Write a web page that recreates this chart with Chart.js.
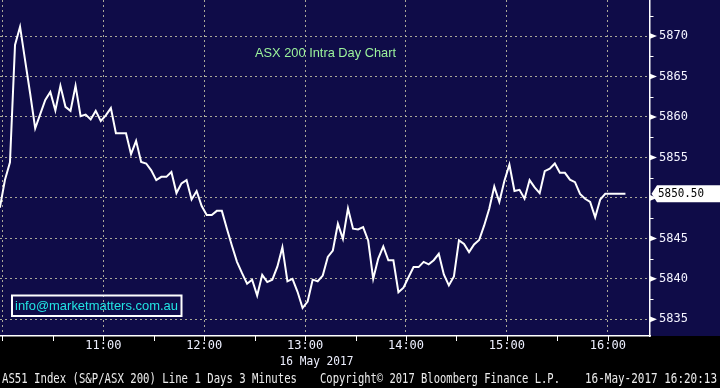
<!DOCTYPE html>
<html>
<head>
<meta charset="utf-8">
<title>ASX 200 Intra Day Chart</title>
<script src="https://cdn.jsdelivr.net/npm/chart.js@4.4.1/dist/chart.umd.min.js"></script>
<style>
    html, body { margin: 0; padding: 0; background: #000; }
    #wrap { width: 720px; height: 388px; }
</style>
</head>
<body>
<div id="wrap"><canvas id="asxChart" width="720" height="388"></canvas></div>
<script>
// AS51 intraday, 3 minute bars, minutes counted from 10:00
const firstBarMinute = -1.5;
const barMinutes = 3;
const prices = [
    5848.8, 5852.2, 5854.4, 5868.9, 5871.15, 5867.0, 5862.9, 5858.6, 5860.35, 5862.1,
    5863.1, 5860.8, 5863.85, 5861.25, 5860.75, 5863.85, 5860.1, 5860.3, 5859.7, 5860.75,
    5859.5, 5860.2, 5861.1, 5858.0, 5858.0, 5858.0, 5855.4, 5857.05, 5854.45, 5854.25,
    5853.4, 5852.2, 5852.6, 5852.6, 5853.2, 5850.6, 5851.8, 5852.2, 5849.8, 5850.85,
    5849.0, 5847.9, 5847.9, 5848.4, 5848.4, 5846.2, 5844.1, 5842.1, 5840.7, 5839.4,
    5839.9, 5837.95, 5840.5, 5839.6, 5839.9, 5841.5, 5843.9, 5839.7, 5840.0, 5838.4,
    5836.4, 5837.2, 5839.9, 5839.7, 5840.4, 5842.7, 5843.5, 5846.8, 5844.95, 5848.7,
    5846.2, 5846.1, 5846.4, 5844.75, 5840.0, 5842.5, 5844.0, 5842.3, 5842.3, 5838.35,
    5838.9, 5840.2, 5841.45, 5841.45, 5842.1, 5841.8, 5842.3, 5843.1, 5840.55, 5839.2,
    5840.3, 5844.75, 5844.3, 5843.3, 5844.25, 5844.8, 5846.6, 5848.65, 5851.4, 5849.5,
    5852.1, 5854.1, 5850.85, 5851.0, 5849.9, 5852.2, 5851.3, 5850.6, 5853.3, 5853.6,
    5854.25, 5853.1, 5853.1, 5852.25, 5851.95, 5850.5, 5849.9, 5849.5, 5847.6, 5849.8,
    5850.5, 5850.5, 5850.5, 5850.5, 5850.5
];

const xGridMinutes = [0, 60, 120, 180, 240, 300, 360];
const xTickLabels = ['', '11:00', '12:00', '13:00', '14:00', '15:00', '16:00'];
const xMinorTickMinutes = [0, 30, 60, 90, 120, 150, 180, 210, 240, 270, 300, 330, 360];
const yTicks = [5835, 5840, 5845, 5850, 5855, 5860, 5865, 5870];
const yMinorTicks = [5837.5, 5842.5, 5847.5, 5852.5, 5857.5, 5862.5, 5867.5, 5872.5];

const chartTitle = 'ASX 200 Intra Day Chart';
const contactText = 'info@marketmatters.com.au';
const dateLabel = '16 May 2017';
const footerLeft = 'AS51 Index (S&P/ASX 200) Line 1 Days 3 Minutes';
const footerMid = 'Copyright\u00A9 2017 Bloomberg Finance L.P.';
const footerRight = '16-May-2017 16:20:13';

const NAVY = '#0f0c48';
const GRID = '#aaa998';
const MONO = '"DejaVu Sans Mono", monospace';
const SANS = '"Liberation Sans", Arial, sans-serif';

const points = prices.map((p, i) => ({ x: firstBarMinute + i * barMinutes, y: p }));

// background: navy plot band, black strip under it
const backgroundPlugin = {
    id: 'background',
    beforeDraw(chart) {
        const ctx = chart.ctx;
        ctx.save();
        ctx.fillStyle = '#000';
        ctx.fillRect(0, 0, chart.width, chart.height);
        ctx.fillStyle = NAVY;
        ctx.fillRect(0, 0, chart.width, chart.chartArea.bottom);
        ctx.restore();
    }
};

// bloomberg style tick marks, last price tag and captions
const decorPlugin = {
    id: 'decor',
    afterDraw(chart) {
        const ctx = chart.ctx;
        const xs = chart.scales.x;
        const ys = chart.scales.y;
        const area = chart.chartArea;
        ctx.save();

        // y axis arrows and minor ticks
        ctx.fillStyle = '#fff';
        ctx.strokeStyle = '#fff';
        ctx.lineWidth = 1;
        yTicks.forEach(v => {
            const py = ys.getPixelForValue(v);
            ctx.beginPath();
            ctx.moveTo(area.right, py - 2.8);
            ctx.lineTo(area.right + 7, py);
            ctx.lineTo(area.right, py + 2.8);
            ctx.closePath();
            ctx.fill();
        });
        yMinorTicks.forEach(v => {
            const py = Math.round(ys.getPixelForValue(v)) + 0.5;
            ctx.beginPath();
            ctx.moveTo(area.right, py);
            ctx.lineTo(area.right + 3.5, py);
            ctx.stroke();
        });

        // x axis ticks every half hour
        xMinorTickMinutes.forEach(m => {
            const px = Math.round(xs.getPixelForValue(m)) + 0.5;
            ctx.beginPath();
            ctx.moveTo(px, area.bottom);
            ctx.lineTo(px, area.bottom + 5);
            ctx.stroke();
        });

        // last price tag
        const last = prices[prices.length - 1];
        const py = ys.getPixelForValue(last);
        ctx.fillStyle = '#fff';
        ctx.beginPath();
        ctx.moveTo(area.right + 1.5, py);
        ctx.lineTo(area.right + 7, py - 8.5);
        ctx.lineTo(chart.width, py - 8.5);
        ctx.lineTo(chart.width, py + 8.5);
        ctx.lineTo(area.right + 7, py + 8.5);
        ctx.closePath();
        ctx.fill();
        ctx.fillStyle = '#000';
        ctx.font = '12px ' + MONO;
        ctx.textBaseline = 'middle';
        ctx.textAlign = 'left';
        ctx.fillText(last.toFixed(2), area.right + 8, py + 0.5, 46);

        // chart title
        ctx.fillStyle = '#9cf39c';
        ctx.font = '13px ' + SANS;
        ctx.fillText(chartTitle, 255, 53, 141);

        // contact box
        ctx.strokeStyle = '#fff';
        ctx.lineWidth = 2;
        ctx.strokeRect(12, 295.5, 169.5, 20.5);
        ctx.fillStyle = '#22e4e4';
        ctx.font = '13px ' + SANS;
        ctx.fillText(contactText, 15, 306.5, 163);

        // date under axis
        ctx.fillStyle = '#eef0ff';
        ctx.font = '12.5px ' + MONO;
        ctx.textAlign = 'center';
        ctx.fillText(dateLabel, 316.5, 362, 74);

        // footer
        ctx.fillStyle = '#ececec';
        ctx.font = '13.5px ' + MONO;
        ctx.textAlign = 'left';
        ctx.fillText(footerLeft, 2, 379.5, 295);
        ctx.fillText(footerMid, 320, 379.5, 240);
        ctx.fillText(footerRight, 585, 379.5, 132);

        ctx.restore();
    }
};

function initChart() {
    const ctx = document.getElementById('asxChart');
    new Chart(ctx, {
        type: 'line',
        data: {
            datasets: [{
                data: points,
                borderColor: '#ffffff',
                borderWidth: 2,
                pointRadius: 0,
                tension: 0,
                fill: false
            }]
        },
        options: {
            responsive: false,
            animation: false,
            layout: { padding: 0 },
            plugins: {
                legend: { display: false },
                tooltip: { enabled: false }
            },
            scales: {
                x: {
                    type: 'linear',
                    position: 'bottom',
                    min: -1.43,
                    max: 385.1,
                    afterBuildTicks(scale) {
                        scale.ticks = xGridMinutes.map(v => ({ value: v }));
                    },
                    afterFit(scale) {
                        scale.height = 52;
                        scale.paddingLeft = 0;
                        scale.paddingRight = 0;
                    },
                    grid: {
                        color: GRID,
                        lineWidth: 1,
                        drawTicks: false
                    },
                    border: { display: true, color: '#ffffff', width: 1.5, dash: [2, 3] },
                    ticks: {
                        padding: 3,
                        maxRotation: 0,
                        autoSkip: false,
                        color: '#eef0ff',
                        font: { family: MONO, size: 12 },
                        callback: (v) => {
                            const i = xGridMinutes.indexOf(v);
                            return i >= 0 ? xTickLabels[i] : '';
                        }
                    }
                },
                y: {
                    type: 'linear',
                    position: 'right',
                    min: 5832.94,
                    max: 5874.45,
                    afterBuildTicks(scale) {
                        scale.ticks = yTicks.map(v => ({ value: v }));
                    },
                    afterFit(scale) {
                        scale.width = 70;
                        scale.paddingTop = 0;
                        scale.paddingBottom = 0;
                    },
                    grid: {
                        color: GRID,
                        lineWidth: 1,
                        drawTicks: false
                    },
                    border: { display: true, color: '#ffffff', width: 1.5, dash: [2, 3] },
                    ticks: {
                        padding: 9,
                        color: '#f4f4ff',
                        font: { family: MONO, size: 12 },
                        callback: (v) => String(v)
                    }
                }
            }
        },
        plugins: [backgroundPlugin, decorPlugin]
    });
}

window.addEventListener('load', initChart);
</script>
</body>
</html>
